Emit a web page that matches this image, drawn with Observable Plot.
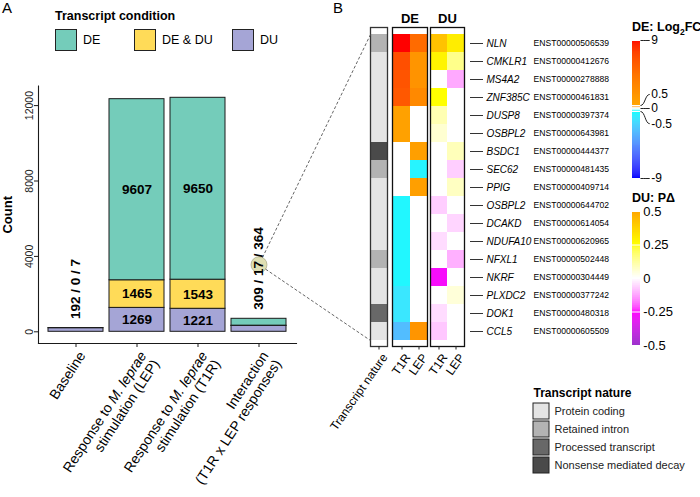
<!DOCTYPE html>
<html><head><meta charset="utf-8">
<script src="https://cdn.jsdelivr.net/npm/d3@7"></script>
<script src="https://cdn.jsdelivr.net/npm/@observablehq/plot@0.6"></script>
<style>
body{margin:0;background:#fff;}
#fig{position:relative;width:700px;height:497px;overflow:hidden;font-family:"Liberation Sans",Arial,sans-serif;color:#000;background:#fff;}
#fig > div{position:absolute;}
#fig svg{overflow:visible;}
.lg-title{position:absolute;font-weight:bold;font-size:12.5px;white-space:nowrap;}
.lg-item{position:absolute;display:flex;align-items:center;font-size:12.5px;white-space:nowrap;}
.lg-sw{width:22px;height:22px;border:1.5px solid #222;margin-right:6px;box-sizing:border-box;}
</style></head><body><div id="fig"></div>
<script>
// ---------------- DATA ----------------
const categories = ["Baseline", "Response to M. leprae\nstimulation (LEP)", "Response to M. leprae\nstimulation (T1R)", "Interaction\n(T1R x LEP responses)"];
const conditions = ["DE", "DE & DU", "DU"];
const conditionColors = ["#74CCBA", "#FFDB58", "#A5A5D6"];
const countDU = [192, 1269, 1221, 309];
const countDEDU = [0, 1465, 1543, 17];
const countDE = [7, 9607, 9650, 364];
const yTicksA = [0, 4000, 8000, 12000];
const highlightValue = 3560;

const genes = ["NLN","CMKLR1","MS4A2","ZNF385C","DUSP8","OSBPL2","BSDC1","SEC62","PPIG","OSBPL2","DCAKD","NDUFA10","NFXL1","NKRF","PLXDC2","DOK1","CCL5"];
const transcripts = ["ENST00000506539","ENST00000412676","ENST00000278888","ENST00000461831","ENST00000397374","ENST00000643981","ENST00000444377","ENST00000481435","ENST00000409714","ENST00000644702","ENST00000614054","ENST00000620965","ENST00000502448","ENST00000304449","ENST00000377242","ENST00000480318","ENST00000605509"];
const natures = ["Protein coding","Retained intron","Processed transcript","Nonsense mediated decay"];
const natureColors = ["#E4E4E4","#B3B3B3","#686868","#4A4A4A"];
const transcriptNature = ["Retained intron","Protein coding","Protein coding","Protein coding","Protein coding","Protein coding","Nonsense mediated decay","Retained intron","Protein coding","Protein coding","Protein coding","Protein coding","Retained intron","Protein coding","Protein coding","Processed transcript","Protein coding"];
const contrasts = ["T1R", "LEP"];
const deT1R = [9, 6.7, 6.4, 6.2, 0.8, 0.8, 0, 0, 0, -0.8, -0.8, -0.8, -0.8, -0.8, -1.4, -1.4, -3];
const deLEP = [5, 1.8, 2.0, 2.8, 0, 0, 1.0, -0.9, 1.0, 0, 0, 0, 0, 0, 0, 0, 1.8];
const duT1R = [0.42, 0.28, 0, 0.25, 0.1, 0.06, 0, 0, 0, -0.07, 0, -0.05, 0, -0.27, 0, -0.05, -0.08];
const duLEP = [0.3, 0.15, -0.12, 0, 0, 0, 0.09, -0.07, 0.08, 0, -0.06, 0, -0.11, 0, 0.05, 0, 0];
const deColorDomain = [-9, -0.5, 0, 0.5, 9];
const deColorRange = ["#0000FF", "#00FFFF", "#FFFFFF", "#FFA500", "#FF0000"];
const duColorDomain = [-0.5, -0.25, 0, 0.25, 0.5];
const duColorRange = ["#9C32CC", "#FF00FF", "#FFFFFF", "#FFFF00", "#FFA500"];
const deLegendTicks = [9, 0.5, 0, -0.5, -9];
const deLegendLabelAt = [9, 1.95, 0, -2.05, -9];
const duLegendTicks = [0.5, 0.25, 0, -0.25, -0.5];

// ---------------- HELPERS ----------------
const fig = document.getElementById("fig");
const FONT = "Liberation Sans, Arial, sans-serif";
const baseStyle = {background: "transparent", overflow: "visible", fontFamily: FONT, color: "#000"};
function place(el, left, top) {
  const d = document.createElement("div");
  d.style.left = left + "px"; d.style.top = top + "px";
  d.appendChild(el); fig.appendChild(d); return el;
}
function html(tag, cls, text, left, top) {
  const e = document.createElement(tag); if (cls) e.className = cls;
  if (text != null) e.innerHTML = text;
  e.style.position = "absolute"; e.style.left = left + "px"; e.style.top = top + "px";
  fig.appendChild(e); return e;
}
const fmt = d3.format("d");

// ---------------- PANEL A ----------------
const long = [];
categories.forEach((c, i) => {
  long.push({cat: c, cond: "DU", n: countDU[i]});
  long.push({cat: c, cond: "DE & DU", n: countDEDU[i]});
  long.push({cat: c, cond: "DE", n: countDE[i]});
});
const totals = categories.map((c, i) => ({cat: c, total: countDU[i] + countDEDU[i] + countDE[i],
  label: `${countDU[i]} / ${countDEDU[i]} / ${countDE[i]}`}));
const bigCats = [categories[1], categories[2]];
const smallCats = [categories[0], categories[3]];
const maxTotal = d3.max(totals, d => d.total);

const chartA = Plot.plot({
  width: 300, height: 497,
  marginLeft: 38, marginRight: 4, marginTop: 85.6, marginBottom: 154,
  style: baseStyle,
  x: {domain: categories, paddingInner: 0.1, paddingOuter: 0.155, axis: null},
  y: {domain: [-0.05 * maxTotal, 1.05 * maxTotal], axis: null},
  color: {domain: conditions, range: conditionColors},
  marks: [
    Plot.barY(long, {x: "cat", y: "n", z: "cond", fill: "cond", stroke: "#1a1a1a", strokeWidth: 1}),
    Plot.text(long.filter(d => bigCats.includes(d.cat)), Plot.stackY({x: "cat", y: "n", z: "cond",
      text: d => fmt(d.n), fontWeight: "bold", fontSize: 13.5})),
    Plot.dot([highlightValue], {x: () => categories[3], y: d => d, r: 8, fill: "#D9D9A6", fillOpacity: 0.85, stroke: "#9a9a7a", strokeWidth: 0.6}),
    Plot.text(totals.filter(d => smallCats.includes(d.cat)), {x: "cat", y: "total", text: "label",
      rotate: -90, textAnchor: "start", lineAnchor: "middle", dy: -9, fontWeight: "bold", fontSize: 13.5}),
    Plot.frame({anchor: "left", stroke: "#1a1a1a", strokeWidth: 1.1}),
    Plot.frame({anchor: "bottom", stroke: "#1a1a1a", strokeWidth: 1.1}),
    Plot.axisY({ticks: yTicksA, tickSize: 4, tickFormat: () => "", label: null, stroke: "#1a1a1a"}),
    Plot.text(yTicksA, {y: d => d, text: d => String(d), frameAnchor: "left", rotate: -90, dx: -6,
      textAnchor: "middle", lineAnchor: "bottom", fontSize: 10.5, fill: "#222"}),
    Plot.text(["Count"], {frameAnchor: "left", rotate: -90, dx: -27, textAnchor: "middle", lineAnchor: "bottom",
      fontWeight: "bold", fontSize: 13}),
    Plot.axisX({tickSize: 4, tickFormat: () => "", label: null, stroke: "#1a1a1a"}),
    Plot.text(categories, {x: d => d, frameAnchor: "bottom", rotate: -57, textAnchor: "end", lineAnchor: "top",
      dy: 6, dx: 1, fontSize: 14, lineHeight: 1.08})
  ]
});
place(chartA, 0, 0);
// italic species name
chartA.querySelectorAll("tspan, text").forEach(node => {
  if (node.childNodes.length === 1 && node.firstChild.nodeType === 3 && node.textContent.includes("M. leprae")) {
    const [before, after] = node.textContent.split("M. leprae");
    node.textContent = "";
    node.append(before);
    const it = document.createElementNS("http://www.w3.org/2000/svg", "tspan");
    it.setAttribute("font-style", "italic"); it.textContent = "M. leprae";
    node.append(it);
    if (after) node.append(after);
  }
});

// legend A
html("div", "lg-title", "Transcript condition", 55, 9);
const legendLeftA = [55, 134, 232];
conditions.forEach((c, i) => {
  const it = html("div", "lg-item", null, legendLeftA[i], 29);
  const sw = document.createElement("div"); sw.className = "lg-sw"; sw.style.background = conditionColors[i];
  it.appendChild(sw); it.append(c);
});
html("div", null, "A", 2, -1).style.fontSize = "15px";
html("div", null, "B", 333, -1).style.fontSize = "15px";

// ---------------- PANEL B HEATMAP ----------------
const rows = genes.map((g, i) => ({gene: g, id: transcripts[i], nature: transcriptNature[i]}));
const deLong = [], duLong = [];
transcripts.forEach((t, i) => {
  deLong.push({id: t, col: "T1R", v: deT1R[i]}, {id: t, col: "LEP", v: deLEP[i]});
  duLong.push({id: t, col: "T1R", v: duT1R[i]}, {id: t, col: "LEP", v: duLEP[i]});
});
const HM = {height: 400, marginTop: 27, marginBottom: 54};
const yHM = {domain: transcripts, padding: 0, axis: null};
const natureLabel = "Transcript nature";
const deColor = {type: "linear", domain: deColorDomain, range: deColorRange, interpolate: "lab"};
const duColor = {type: "linear", domain: duColorDomain, range: duColorRange, interpolate: "lab"};

function bottomLabels(domain) {
  return [
    Plot.axisX({tickSize: 3.5, tickFormat: () => "", label: null, stroke: "#222"}),
    Plot.text(domain, {x: d => d, frameAnchor: "bottom", rotate: -55, textAnchor: "end", lineAnchor: "top",
      dy: 6, dx: 2, fontSize: 12})
  ];
}

const natLeft = 340;
const chartN = Plot.plot({
  width: 60, ...HM, marginLeft: 30, marginRight: 13, style: baseStyle,
  x: {domain: [natureLabel], padding: 0, axis: null}, y: yHM,
  color: {domain: natures, range: natureColors},
  marks: [
    Plot.cell(rows, {x: () => natureLabel, y: "id", fill: "nature", inset: 0}),
    Plot.frame({stroke: "#333", strokeWidth: 1.3}),
    ...bottomLabels([natureLabel])
  ]
});
place(chartN, natLeft, 0);

const chartDE = Plot.plot({
  width: 50, ...HM, marginLeft: 7, marginRight: 8, style: baseStyle,
  x: {domain: contrasts, padding: 0, axis: null}, y: yHM, color: deColor,
  marks: [
    Plot.cell(deLong, {x: "col", y: "id", fill: "v", inset: 0}),
    Plot.frame({stroke: "#111", strokeWidth: 1.3}),
    Plot.text(["DE"], {frameAnchor: "top", dy: -5, lineAnchor: "bottom", fontWeight: "bold", fontSize: 13}),
    ...bottomLabels(contrasts)
  ]
});
place(chartDE, 385, 0);

const chartDU = Plot.plot({
  width: 277, ...HM, marginLeft: 7, marginRight: 236, style: baseStyle,
  x: {domain: contrasts, padding: 0, axis: null}, y: {domain: transcripts, padding: 0}, color: duColor,
  marks: [
    Plot.cell(duLong, {x: "col", y: "id", fill: "v", inset: 0}),
    Plot.frame({stroke: "#111", strokeWidth: 1.3}),
    Plot.text(["DU"], {frameAnchor: "top", dy: -5, lineAnchor: "bottom", fontWeight: "bold", fontSize: 13}),
    ...bottomLabels(contrasts),
    Plot.axisY({anchor: "right", tickSize: 13, dx: 5, tickFormat: () => "", label: null, stroke: "#333"}),
    Plot.text(rows, {y: "id", text: "gene", frameAnchor: "right", textAnchor: "start", dx: 22,
      fontStyle: "italic", fontSize: 10}),
    Plot.text(rows, {y: "id", text: "id", frameAnchor: "right", textAnchor: "start", dx: 69, fontSize: 8.6})
  ]
});
place(chartDU, 423, 0);

// ---------------- COLOUR LEGENDS ----------------
html("div", "lg-title", "DE: Log<sub style='font-size:8.5px'>2</sub>FC", 632, 20).style.fontSize = "12.5px";
const deRamp = d3.range(-9, 9, 0.125);
const deItems = deLegendTicks.map((v, i) => ({v, at: deLegendLabelAt[i]}));
const chartDEleg = Plot.plot({
  width: 100, height: 200, marginLeft: 32, marginRight: 60, marginTop: 40, marginBottom: 22,
  style: baseStyle,
  x: {domain: [0, 1], range: [32, 40], axis: null},
  y: {type: "linear", domain: [-9, -0.5, 0.5, 9], range: [178, 111, 105, 40], axis: null},
  color: deColor,
  marks: [
    Plot.rect(deRamp, {x1: 0, x2: 1, y1: d => d, y2: d => d + 0.125, fill: d => d + 0.0625, shapeRendering: "crispEdges"}),
    Plot.tickY(deLegendTicks.filter(v => v !== 0), {y: d => d, stroke: "white", strokeWidth: 1}),
    Plot.link(deItems, {x1: 1, y1: "v", x2: 2.15, y2: "at", curve: "bump-x", stroke: "#222", strokeWidth: 1}),
    Plot.text(deItems, {x: 2.35, y: "at", text: d => String(d.v), textAnchor: "start", fontSize: 12})
  ]
});
place(chartDEleg, 600, 0);

html("div", "lg-title", "DU: P&Delta;", 632, 191).style.fontSize = "12.5px";
const duRamp = d3.range(-0.5, 0.5, 0.005);
const chartDUleg = Plot.plot({
  width: 100, height: 165, marginLeft: 32, marginRight: 60, marginTop: 16, marginBottom: 15,
  style: baseStyle,
  x: {domain: [0, 1], range: [32, 40], axis: null},
  y: {domain: [-0.5, 0.5], range: [150, 16], axis: null},
  color: duColor,
  marks: [
    Plot.rect(duRamp, {x1: 0, x2: 1, y1: d => d, y2: d => d + 0.005, fill: d => d + 0.0025, shapeRendering: "crispEdges"}),
    Plot.tickY(duLegendTicks, {y: d => d, stroke: "white", strokeWidth: 1}),
    Plot.text(duLegendTicks, {x: 1.35, y: d => d, text: d => String(d), textAnchor: "start", fontSize: 13})
  ]
});
place(chartDUleg, 600, 195);

// Transcript nature legend
const chartNleg = Plot.plot({
  width: 180, height: 100, marginLeft: 13, marginRight: 151, marginTop: 20, marginBottom: 5,
  style: baseStyle,
  x: {domain: ["key"], padding: 0, axis: null},
  y: {domain: natures, padding: 0.12, axis: null},
  color: {domain: natures, range: natureColors},
  marks: [
    Plot.cell(natures, {x: () => "key", y: d => d, fill: d => d, stroke: "#222", strokeWidth: 1}),
    Plot.text(natures, {x: () => "key", y: d => d, text: d => d, textAnchor: "start", dx: 13, fontSize: 11, fill: "#222"}),
    Plot.text([natureLabel], {frameAnchor: "top-left", dy: -4, lineAnchor: "bottom", fontWeight: "bold", fontSize: 12})
  ]
});
place(chartNleg, 520, 380);

// ---------------- CONNECTORS ----------------
const sxA = chartA.scale("x"), syA = chartA.scale("y");
const cx = sxA.apply(categories[3]) + sxA.bandwidth / 2, cy = syA.apply(highlightValue);
const sxN = chartN.scale("x"), syN = chartN.scale("y");
const nx = natLeft + sxN.apply(natureLabel);
const nTop = syN.apply(transcripts[0]);
const nBot = syN.apply(transcripts[transcripts.length - 1]) + syN.bandwidth;
const R = 8;
const connectors = [[nx, nTop], [nx, nBot]].map(([tx, ty]) => {
  const dx = tx - cx, dy = ty - cy, L = Math.hypot(dx, dy);
  return {x1: cx + R * dx / L, y1: cy + R * dy / L, x2: tx, y2: ty};
});
const overlay = Plot.plot({
  width: 700, height: 497, margin: 0, style: baseStyle,
  x: {type: "identity", axis: null}, y: {type: "identity", axis: null},
  marks: [Plot.link(connectors, {x1: "x1", y1: "y1", x2: "x2", y2: "y2", stroke: "#555", strokeWidth: 0.9, strokeDasharray: "3,2"})]
});
place(overlay, 0, 0).style.pointerEvents = "none";
</script></body></html>
